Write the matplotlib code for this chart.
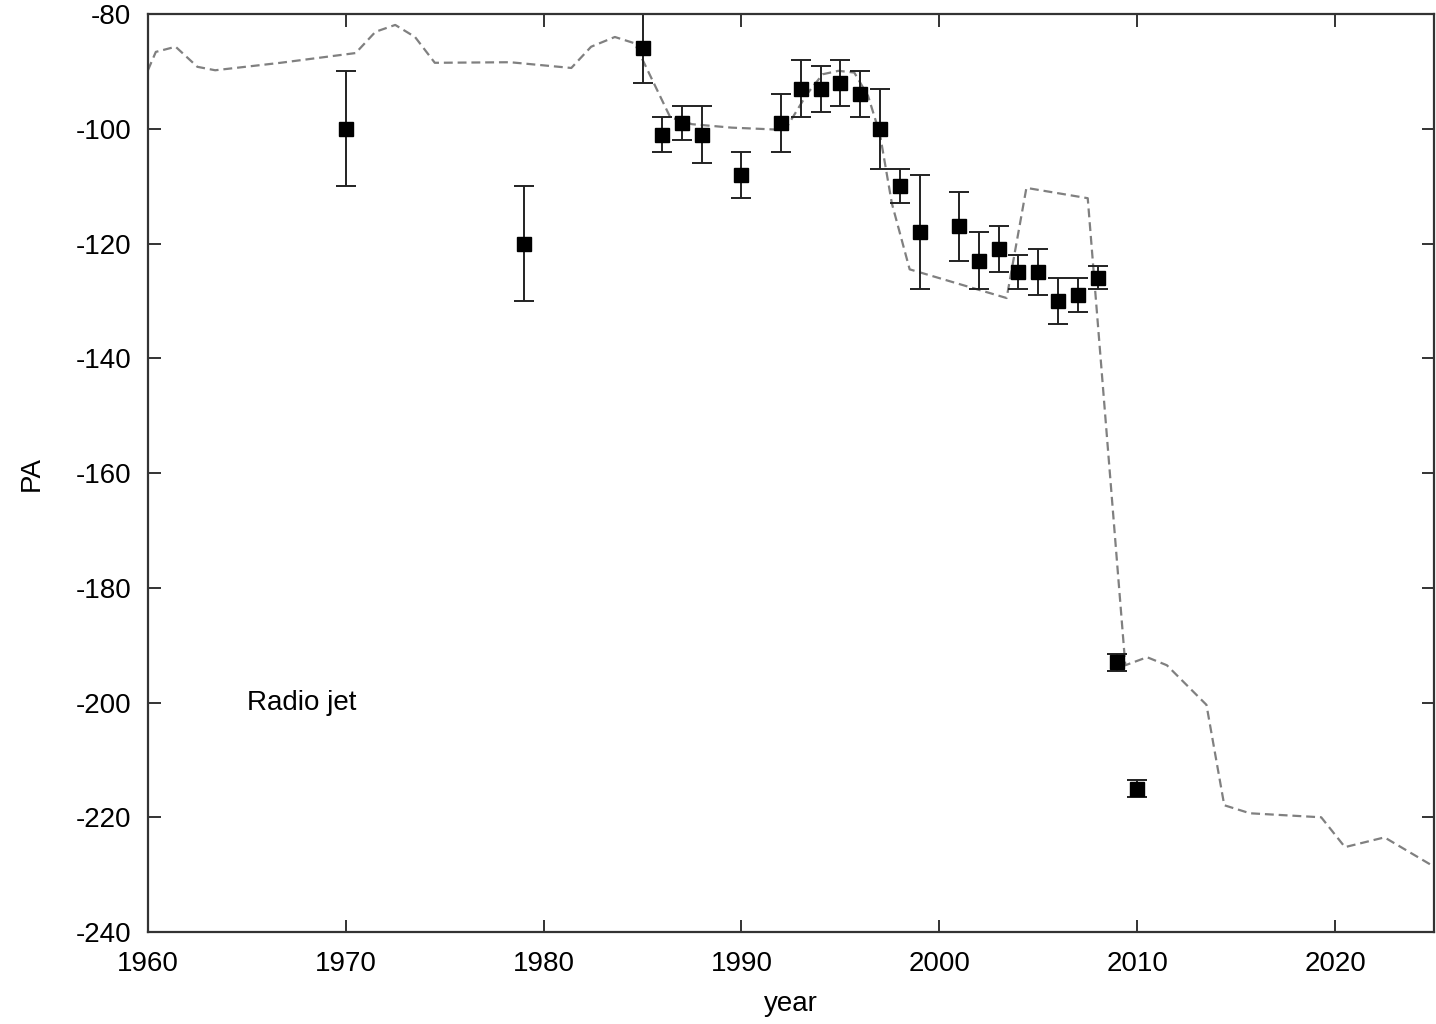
import numpy as np
import matplotlib.pyplot as plt

plt.rcParams['font.family'] = ['Liberation Sans', 'DejaVu Sans']
plt.rcParams['axes.unicode_minus'] = False

# Pomiary PA (rok, wartosc, blad)
years = [1970, 1979, 1985, 1986, 1987, 1988, 1990, 1992, 1993, 1994, 1995, 1996,
         1997, 1998, 1999, 2001, 2002, 2003, 2004, 2005, 2006, 2007, 2008, 2009, 2010]
pa = [-100, -120, -86, -101, -99, -101, -108, -99, -93, -93, -92, -94,
      -100, -110, -118, -117, -123, -121, -125, -125, -130, -129, -126, -193, -215]
pa_err = [10, 10, 6, 3, 3, 5, 4, 5, 5, 4, 4, 4,
          7, 3, 10, 6, 5, 4, 3, 4, 4, 3, 2, 1.5, 1.5]

# Model (linia przerywana)
model_year = [1960.0, 1960.4, 1961.4, 1962.5, 1963.4, 1966.7, 1970.5, 1971.5, 1972.5,
              1973.5, 1974.5, 1978.3, 1981.4, 1982.4, 1983.6, 1984.6, 1986.4, 1987.5,
              1989.5, 1992.2, 1993.3, 1994.1, 1994.9, 1995.7, 1996.4, 1997.0, 1997.6,
              1998.5, 2003.4, 2004.4, 2007.5, 2009.4, 2010.5, 2011.5, 2013.5,
              2014.4, 2015.7, 2019.3, 2020.5, 2022.5, 2025.0]
model_pa = [-89.8, -86.6, -85.7, -89.2, -89.8, -88.5, -86.8, -83.1, -81.9,
            -84.0, -88.5, -88.4, -89.4, -85.7, -84.0, -85.1, -98.0, -99.2,
            -99.8, -100.2, -94.0, -90.5, -89.9, -90.2, -94.3, -101.0, -113.0,
            -124.5, -129.5, -110.3, -112.1, -193.5, -192.1, -193.5, -200.4,
            -217.9, -219.3, -220.0, -225.2, -223.5, -228.6]

fig = plt.figure(figsize=(14.36, 10.24), dpi=100)
ax = fig.add_axes([0.103, 0.0898, 0.8956, 0.8965])

ax.plot(model_year, model_pa, color='#808080', lw=1.6, dashes=(4, 2.2))
ax.errorbar(years, pa, yerr=pa_err, fmt='s', color='black', ms=10,
            ecolor='#222222', elinewidth=1.4, capsize=7, capthick=1.4)

ax.text(1965, -200, 'Radio jet', fontsize=20, ha='left', va='center')

ax.set_xlim(1960, 2025)
ax.set_ylim(-240, -80)
ax.set_xticks(np.arange(1960, 2021, 10))
ax.set_yticks(np.arange(-240, -79, 20))
ax.tick_params(direction='in', length=9, width=1.4, top=True, right=True,
               labelsize=20, color='#333333')
ax.tick_params(axis='x', pad=14)
ax.tick_params(axis='y', pad=12)
for s in ax.spines.values():
    s.set_linewidth(1.6)
    s.set_color('#333333')

ax.set_xlabel('year', fontsize=20, labelpad=10)
ax.set_ylabel('PA', fontsize=20, labelpad=22)

plt.savefig('out.png', dpi=100)
